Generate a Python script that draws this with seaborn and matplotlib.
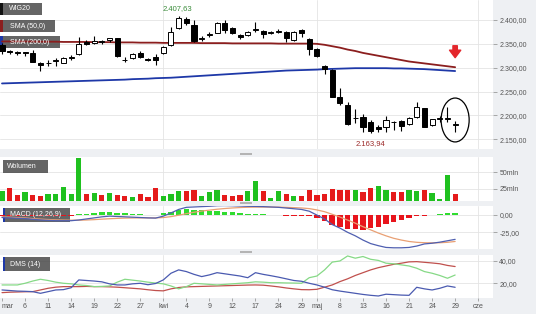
import numpy as np
import pandas as pd
import matplotlib
matplotlib.use("Agg")
import matplotlib.pyplot as plt
import seaborn as sns
from matplotlib.patches import Rectangle, Ellipse

# ---------------- data ----------------
opens = [2348, 2334, 2333, 2332, 2331, 2310, 2309, 2315, 2310, 2321,
         2329, 2354, 2352, 2354, 2358, 2362, 2316, 2320, 2331, 2318,
         2322, 2331, 2348, 2383, 2403, 2390, 2361, 2368, 2373, 2394,
         2383, 2369, 2369, 2378, 2377, 2373, 2375, 2375, 2358, 2379,
         2360, 2339, 2303, 2295, 2239, 2222, 2195, 2197, 2186, 2176,
         2176, 2186, 2188, 2182, 2197, 2215, 2180, 2193, 2192, 2180]
highs = [2352, 2337, 2336, 2333, 2337, 2311, 2316, 2321, 2322, 2327,
         2364, 2358, 2367, 2359, 2362, 2363, 2322, 2330, 2334, 2321,
         2328, 2346, 2385, 2407.63, 2406, 2400, 2366, 2375, 2395, 2400,
         2385, 2371, 2376, 2396, 2378, 2376, 2381, 2376, 2377, 2381,
         2363, 2341, 2306, 2297, 2257, 2228, 2214, 2204, 2190, 2180,
         2199, 2189, 2190, 2196, 2228, 2216, 2193, 2198, 2218, 2188]
lows = [2329, 2328, 2327, 2324, 2311, 2293, 2303, 2303, 2309, 2316,
        2327, 2347, 2349, 2350, 2354, 2323, 2311, 2318, 2320, 2313,
        2305, 2329, 2346, 2382, 2389, 2354, 2355, 2364, 2372, 2373,
        2370, 2361, 2367, 2375, 2362, 2370, 2372, 2353, 2357, 2364,
        2327, 2323, 2286, 2238, 2222, 2179, 2185, 2165, 2163.94, 2166,
        2166, 2170, 2167, 2179, 2194, 2175, 2177, 2186, 2187, 2165]
closes = [2336, 2333, 2330, 2331, 2312, 2306, 2310, 2316, 2320, 2323,
          2350, 2349, 2356, 2355, 2362, 2325, 2317, 2328, 2322, 2317,
          2316, 2343, 2375, 2404, 2393, 2356, 2362, 2371, 2394, 2379,
          2373, 2364, 2375, 2381, 2371, 2374, 2376, 2362, 2375, 2373,
          2339, 2325, 2297, 2239, 2226, 2182, 2194, 2176, 2167, 2172,
          2191, 2187, 2178, 2195, 2218, 2176, 2192, 2194, 2195, 2181]

sma50 = [2355, 2355, 2355, 2355, 2355, 2354.5, 2354.5, 2354.5, 2354, 2354,
         2354, 2354, 2353.5, 2353.5, 2353.5, 2353, 2353, 2353, 2352.5, 2352.5,
         2352.5, 2352, 2352, 2352, 2352, 2352, 2351.5, 2351.5, 2351.5, 2351.5,
         2351, 2351, 2351, 2351, 2351, 2351, 2350.5, 2350.5, 2350.5, 2350.5,
         2350.5, 2350, 2348, 2345, 2342, 2338, 2335, 2331, 2328, 2325,
         2322, 2319, 2316, 2313, 2311, 2309, 2307, 2305, 2303, 2301]
sma200 = [2267, 2267.5, 2268, 2268.5, 2269, 2269.5, 2270, 2270.5, 2271, 2271.5,
          2272, 2272.5, 2273, 2273.5, 2274, 2274.5, 2275, 2276, 2276.5, 2277,
          2278, 2278.5, 2279, 2280, 2281, 2282, 2283, 2284, 2285, 2286,
          2287, 2288, 2289, 2290, 2291, 2292, 2293, 2294, 2294.5, 2295,
          2295.5, 2296, 2297, 2297.5, 2298, 2298.5, 2299, 2299, 2299, 2299,
          2299, 2298.5, 2298.5, 2298, 2297.5, 2297, 2296, 2295, 2294, 2293]

volume = [21.1, 26.0, 16.0, 20.1, 16.0, 14.5, 17.5, 17.5, 27.1, 17.5,
          71.0, 17.5, 18.6, 16.0, 18.1, 16.0, 13.6, 12.6, 17.1, 12.1,
          26.0, 14.5, 17.1, 21.1, 21.1, 23.5, 14.5, 19.6, 22.6, 16.0,
          14.5, 15.6, 22.0, 36.1, 21.1, 11.1, 21.1, 17.1, 13.6, 14.5,
          23.1, 15.6, 16.6, 25.0, 22.6, 22.6, 22.6, 20.5, 25.6, 29.5,
          22.6, 20.1, 20.1, 22.6, 21.1, 23.5, 18.1, 9.6, 45.1, 17.1]
vol_dir = ["up", "down", "down", "up", "down", "down", "up", "up", "up", "up",
           "up", "down", "up", "down", "up", "down", "down", "up", "down", "down",
           "down", "up", "up", "up", "down", "down", "up", "up", "up", "down",
           "down", "down", "up", "up", "down", "up", "up", "down", "up", "down",
           "down", "down", "down", "down", "down", "down", "up", "down", "down", "up",
           "up", "down", "down", "up", "up", "down", "up", "up", "up", "down"]

macd = [-4.0, -4.5, -5.0, -5.5, -6.5, -7.5, -8.0, -8.5, -8.5, -8.5,
        -7.5, -6.0, -4.5, -3.0, -2.0, -2.5, -3.0, -3.5, -4.0, -4.5,
        -4.8, -2.0, 2.5, 7.5, 10.5, 11.0, 11.5, 12.0, 12.8, 13.0,
        12.8, 12.4, 12.0, 11.8, 11.5, 11.0, 10.5, 9.5, 8.5, 7.5,
        5.0, -0.5, -6.0, -14.0, -19.0, -25.0, -30.0, -36.0, -41.0, -44.0,
        -46.5, -47.0, -47.0, -46.5, -44.5, -41.5, -40.5, -39.0, -37.0, -35.0]
signal = [-3.0, -3.5, -4.0, -4.5, -5.5, -6.2, -6.8, -7.3, -7.6, -7.8,
          -7.8, -7.5, -7.0, -6.3, -5.7, -5.2, -4.8, -4.6, -4.5, -4.5,
          -4.5, -4.0, -2.7, -0.7, 1.5, 3.5, 5.2, 6.5, 7.8, 8.8,
          9.6, 10.2, 10.6, 10.8, 10.9, 10.9, 10.8, 10.5, 10.1, 9.6,
          8.7, 6.8, 4.3, 0.6, -3.3, -7.6, -12.0, -17.0, -21.5, -26.0,
          -30.0, -33.5, -36.0, -38.0, -39.2, -39.8, -40.0, -39.8, -39.2, -38.0]
macd_hist = [-1.5, -1.5, -1.5, -1.5, -1.5, -1.5, -1.5, -1.5, -1.3, -1.2,
             0.8, 1.5, 2.5, 3.3, 3.7, 2.7, 1.8, 1.1, 0.8, -1.0,
             -1.0, 1.8, 4.0, 6.5, 8.0, 7.0, 6.0, 5.5, 5.0, 4.2,
             3.2, 2.2, 1.4, 1.0, 0.6, 0.3, -0.3, -1.2, -1.4, -1.6,
             -2.5, -4.5, -9.0, -14.0, -18.0, -20.0, -20.5, -21.0, -19.5, -17.0,
             -13.5, -10.5, -7.0, -4.8, -1.5, -1.2, -0.2, 1.2, 1.8, 2.0]

dms_blue = [14, 13.5, 13, 12.8, 12.5, 11, 12.5, 14, 14.3, 16,
            23, 22.5, 22, 21.3, 19.5, 18.5, 18.5, 19.5, 20, 18.7,
            19.8, 23, 29, 32, 30.5, 28, 26, 27.5, 29.5, 28.5,
            27.5, 26.5, 25, 29.5, 28, 26.8, 25.5, 24, 22.5, 21.8,
            20, 18.5, 16.5, 14.2, 13, 12, 11, 10, 9.2, 8.6,
            10.2, 9.8, 9.4, 9.2, 16.4, 15, 14, 15.5, 17.6, 16.4]
dms_red = [11.6, 12, 12.2, 12.4, 12.5, 14, 15.5, 16.5, 17, 17,
           17, 17.2, 17, 17, 16.8, 16.5, 16, 15.5, 15, 14.2,
           13.5, 13.2, 15, 16.2, 16.8, 17, 17.2, 17.4, 17.6, 17.8,
           18, 18.2, 18.4, 18.5, 18.3, 17.6, 16.8, 15.8, 15, 14.3,
           14.2, 14.6, 16.5, 18.5, 21.5, 24, 27, 29.5, 32, 34,
           35.5, 37, 38, 39.2, 39.4, 38.8, 38.2, 37.5, 36, 35]
dms_green = [18.5, 18.5, 18.5, 20, 22, 23.6, 22.5, 21, 20, 19.5,
             18.5, 18, 17, 17.2, 17.6, 21, 23.6, 22.8, 22, 21,
             20.2, 19.5, 17.6, 15, 17, 20, 19.5, 19, 18.5, 19,
             19.5, 20, 20.5, 21.3, 21, 20.5, 20.5, 20.3, 20.2, 20,
             25, 26.5, 32, 39, 40, 44.5, 42.5, 44, 41.5, 40.5,
             38, 37.5, 36.5, 35.5, 33.5, 30.5, 29, 27, 24.5, 27.4]

x_tick_pos = [0, 3, 6, 9, 12, 15, 18, 21, 24, 27, 30, 33, 36, 39, 41, 44, 47, 50, 53, 56, 59, 62]
x_tick_lab = ["mar", "6", "11", "14", "19", "22", "27", "kwi", "4", "9", "12", "17",
              "24", "29", "maj", "8", "13", "16", "21", "24", "29", "cze"]
month_starts = [21, 41, 62]

price_ticks = [2150, 2200, 2250, 2300, 2350, 2400]
price_tick_lab = ["2.150,00", "2.200,00", "2.250,00", "2.300,00", "2.350,00", "2.400,00"]
vol_ticks = [25, 50]
vol_tick_lab = ["25mln", "50mln"]
macd_ticks = [-25, 0]
macd_tick_lab = ["-25,00", "0,00"]
dms_ticks = [20, 40]
dms_tick_lab = ["20,00", "40,00"]

# ---------------- figure ----------------
sns.set_style("white")
plt.rcParams["font.family"] = ["Liberation Sans", "DejaVu Sans"]

W, H = 536, 314
BG = "#eef0f3"
fig = plt.figure(figsize=(W / 100, H / 100), dpi=100, facecolor=BG)


def px_axes(x0, y0, x1, y1):
    return fig.add_axes([x0 / W, 1 - y1 / H, (x1 - x0) / W, (y1 - y0) / H])


ax_p = px_axes(0, 0, 493, 149)
ax_v = px_axes(0, 157, 493, 200.5)
ax_m = px_axes(0, 205.5, 493, 249)
ax_d = px_axes(0, 254.5, 493, 298)

idx = np.arange(len(closes))
o = np.array(opens); c = np.array(closes)
hi = np.array(highs); lo = np.array(lows)
up = c >= o

# --- price panel ---
sns.lineplot(x=idx, y=sma50, color="#8b1e1e", lw=1.3, ax=ax_p, zorder=3)
sns.lineplot(x=idx, y=sma200, color="#1e38a8", lw=1.3, ax=ax_p, zorder=3)
ax_p.vlines(idx, lo, hi, color="black", lw=0.8, zorder=4)
body_h = np.maximum(np.abs(c - o), 0.6)
ax_p.bar(idx, body_h, bottom=np.minimum(o, c), width=0.66,
         color=np.where(up, "white", "black"), edgecolor="black", linewidth=0.7, zorder=5)

imax = int(np.argmax(hi)); imin = int(np.argmin(lo))
ax_p.annotate("2.407,63", xy=(imax, hi[imax]), xytext=(-1.5, 7.5), textcoords="offset pixels",
              ha="center", va="center", fontsize=5.5, color="#3a8c3a", zorder=6)
ax_p.annotate("2.163,94", xy=(imin, lo[imin]), xytext=(0, -10.5), textcoords="offset pixels",
              ha="center", va="center", fontsize=5.5, color="#9c2a2a", zorder=6)
ax_p.annotate("", xy=(59, 2321), xytext=(59, 2346),
              arrowprops=dict(arrowstyle="simple,head_width=0.9,head_length=0.6,tail_width=0.35",
                              color="#e3262b", shrinkA=0, shrinkB=0, mutation_scale=9), zorder=6)
ax_p.add_patch(Ellipse((59, 2190.4), 3.65, 92, fill=False, edgecolor="black", lw=0.9, zorder=6))

ax_p.set_ylim(2129.6, 2441.9)

# --- volume panel ---
vol_df = pd.DataFrame({"idx": idx, "vol": volume, "dir": vol_dir})
sns.barplot(data=vol_df, x="idx", y="vol", hue="dir",
            palette={"up": "#1fc11f", "down": "#e51b1b"}, native_scale=True, dodge=False,
            width=0.68, saturation=1, linewidth=0, errorbar=None, legend=False, ax=ax_v, zorder=3)
ax_v.set_ylim(7.3, 72.5)

# --- MACD panel ---
m_df = pd.DataFrame({"idx": idx, "h": macd_hist,
                     "sgn": np.where(np.array(macd_hist) >= 0, "pos", "neg")})
sns.barplot(data=m_df, x="idx", y="h", hue="sgn",
            palette={"pos": "#2fdc2f", "neg": "#e8141c"}, native_scale=True, dodge=False,
            width=0.72, saturation=1, linewidth=0, errorbar=None, legend=False, ax=ax_m, zorder=3)
sns.lineplot(x=idx, y=signal, color="#e9a074", lw=0.9, ax=ax_m, zorder=4)
sns.lineplot(x=idx, y=macd, color="#4f5fb0", lw=0.9, ax=ax_m, zorder=4)
ax_m.set_ylim(-48.7, 13.1)

# --- DMS panel ---
sns.lineplot(x=idx, y=dms_red, color="#c0504d", lw=0.9, ax=ax_d, zorder=4)
sns.lineplot(x=idx, y=dms_green, color="#86d986", lw=0.9, ax=ax_d, zorder=4)
sns.lineplot(x=idx, y=dms_blue, color="#4a5ab0", lw=0.9, ax=ax_d, zorder=4)
ax_d.set_ylim(6.8, 45.8)

# --- common styling ---
tick_sets = [(ax_p, price_ticks, price_tick_lab), (ax_v, vol_ticks, vol_tick_lab),
             (ax_m, macd_ticks, macd_tick_lab), (ax_d, dms_ticks, dms_tick_lab)]
for ax, tk, tl in tick_sets:
    ax.set_facecolor("white")
    ax.set_xlim(-0.26, 63.93)
    ax.set_xlabel(""); ax.set_ylabel("")
    for s in ax.spines.values():
        s.set_visible(False)
    ax.yaxis.tick_right()
    ax.set_yticks(tk)
    ax.set_yticklabels(tl)
    ax.tick_params(axis="y", direction="out", length=3, width=0.6, color="#9a9a9a",
                   labelsize=5, labelcolor="#555555", pad=1.5)
    ax.grid(True, axis="y", color="#e4e4e4", lw=0.6, zorder=0)
    ax.set_axisbelow(True)
    for mx in month_starts:
        ax.axvline(mx, color="#e4e4e4", lw=0.6, zorder=0)
    if ax is not ax_d:
        ax.set_xticks([])

ax_d.set_xticks(x_tick_pos)
ax_d.set_xticklabels(x_tick_lab)
ax_d.tick_params(axis="x", direction="out", length=2, width=0.6, color="#9a9a9a",
                 labelsize=5, labelcolor="#555555", pad=1.5, bottom=True)
ax_d.grid(False, axis="x")
first_lab = ax_d.get_xticklabels()[0]
first_lab.set_horizontalalignment("left")
first_lab.set_x(-0.2)

# --- label boxes ---
def label_box(ax, x0, y0, x1, y1, text, bar_color=None, bar_x0=0, tx=None):
    ax.add_patch(Rectangle((x0 / W, 1 - y1 / H), (x1 - x0) / W, (y1 - y0) / H,
                           transform=fig.transFigure, facecolor="#4a4a4a", alpha=0.85,
                           edgecolor="none", zorder=2))
    if bar_color is not None:
        ax.add_patch(Rectangle((bar_x0 / W, 1 - y1 / H), (x0 - bar_x0) / W, (y1 - y0) / H,
                               transform=fig.transFigure, facecolor=bar_color,
                               edgecolor="none", zorder=2.1))
    ax.text((tx if tx is not None else x0 + 5) / W, 1 - (y0 + y1) / 2 / H, text,
            transform=fig.transFigure, color="white", fontsize=5, ha="left", va="center", zorder=7)

label_box(ax_p, 3, 3, 42, 15, "WIG20", "#111111", 0, 9)
label_box(ax_p, 3, 20, 55, 32, "SMA (50,0)", "#8b1e1e", 0, 10)
label_box(ax_p, 3, 36, 60, 48, "SMA (200,0)", "#1e38a8", 0, 10)
label_box(ax_v, 3, 160, 48, 173, "Wolumen", None, 0, 7)
label_box(ax_m, 5, 208, 70, 222, "MACD (12,26,9)", "#1e38a8", 3, 10)
label_box(ax_d, 5, 257, 50, 271, "DMS (14)", "#1e38a8", 3, 10)

# --- panel separator handles ---
for yy in (152.8, 201.6, 250.6):
    fig.patches.append(Rectangle((240 / W, 1 - (yy + 2.4) / H), 12 / W, 2.4 / H,
                                 transform=fig.transFigure, facecolor="#b4b4b4",
                                 edgecolor="none", figure=fig))

fig.savefig("out.png", dpi=100, facecolor=BG)
